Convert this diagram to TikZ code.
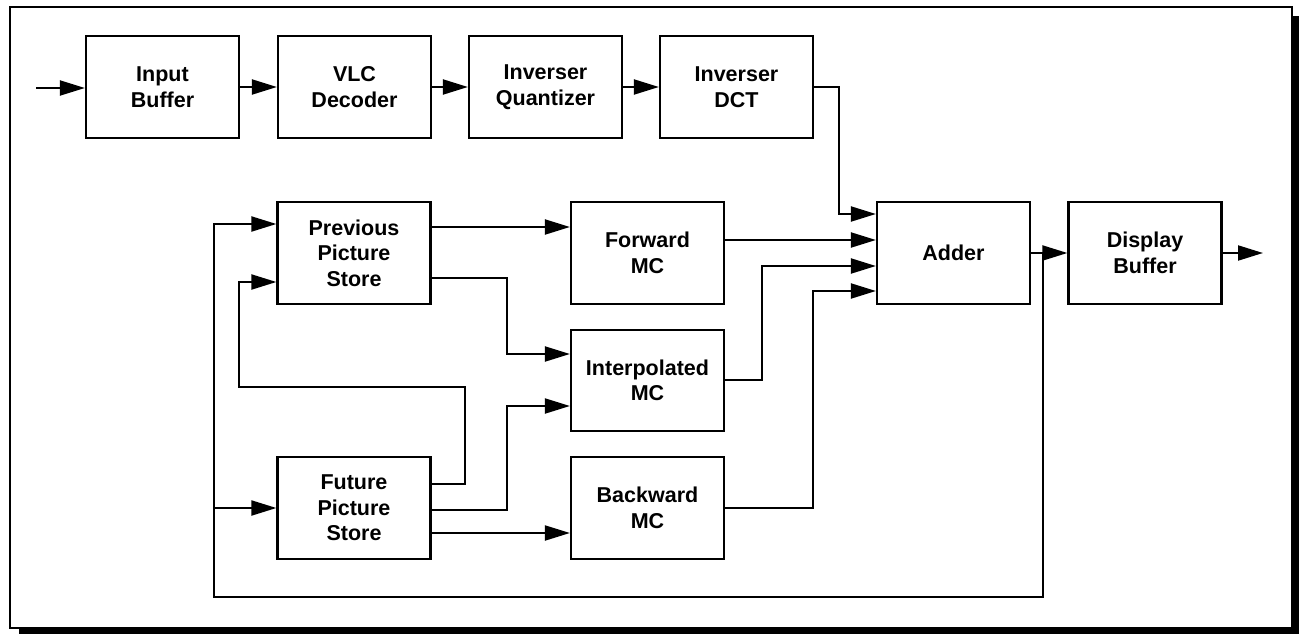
\documentclass[tikz,border=0pt]{standalone}
\usepackage{fontspec}
\setmainfont{Liberation Sans}
\usetikzlibrary{arrows.meta}
\begin{document}
\begin{tikzpicture}[x=1pt,y=-1pt,
  blk/.style={draw,line width=2.2pt,minimum width=153pt,minimum height=102pt,inner sep=0pt,align=center,
    font=\fontsize{21.5}{25.5}\selectfont\bfseries},
  arr/.style={line width=2pt,-{Triangle[length=25pt,width=15pt]}},
  ln/.style={line width=2pt}]
\useasboundingbox (0,0) rectangle (1299,634);
\fill[black] (19,16) rectangle (1299,634);
\draw[line width=2.5pt,fill=white] (10,7) rectangle (1292,628);
% blocks
\node[blk] (ib) at (162.5,87) {Input\\Buffer};
\node[blk] (vlc) at (354.5,87) {VLC\\Decoder};
\node[blk] (iq) at (545.5,87) {Inverser\\Quantizer};
\node[blk] (dct) at (736.5,87) {Inverser\\DCT};
\node[blk] (prev) at (354,253) {Previous\\Picture\\Store};
\node[blk] (fwd) at (647.5,253) {Forward\\MC};
\node[blk,minimum height=101pt] (interp) at (647.5,380.5) {Interpolated\\MC};
\node[blk] (back) at (647.5,508) {Backward\\MC};
\node[blk] (fut) at (354,508) {Future\\Picture\\Store};
\node[blk] (adder) at (953.5,253) {Adder};
\node[blk] (disp) at (1145,253) {Display\\Buffer};
\coordinate (in) at (36,88);
\coordinate (out) at (1263,253);
\coordinate (loopR) at (1043,597);
\coordinate (loopL) at (214,597);
% top chain
\draw[arr] (in) -- (ib.west |- in);
\draw[arr] (ib.east) -- (vlc.west);
\draw[arr] (vlc.east) -- (iq.west);
\draw[arr] (iq.east) -- (dct.west);
\draw[arr] (dct.east) -| (839,214) -- (adder.west |- 0,214);
% middle
\draw[arr] (prev.east |- 0,227) -- (fwd.west |- 0,227);
\draw[arr] (prev.east |- 0,278) -| (507,354) -- (interp.west |- 0,354);
\draw[arr] (fut.east |- 0,510) -| (507,406) -- (interp.west |- 0,406);
\draw[arr] (fut.east |- 0,533) -- (back.west |- 0,533);
\draw[arr] (fut.east |- 0,484) -| (465,387) -| (239,282) -- (prev.west |- 0,282);
\draw[arr] (fwd.east |- 0,240) -- (adder.west |- 0,240);
\draw[arr] (interp.east |- 0,380) -| (762,266) -- (adder.west |- 0,266);
\draw[arr] (back.east |- 0,508) -| (813,291) -- (adder.west |- 0,291);
% output
\draw[arr] (adder.east) -- (disp.west);
\draw[arr] (disp.east) -- (out);
% feedback loop
\draw[arr] (adder.east -| loopR) -- (loopR) -- (loopL) |- (prev.west |- 0,224);
\draw[arr] (loopL |- 0,508) -- (fut.west |- 0,508);
\end{tikzpicture}
\end{document}
